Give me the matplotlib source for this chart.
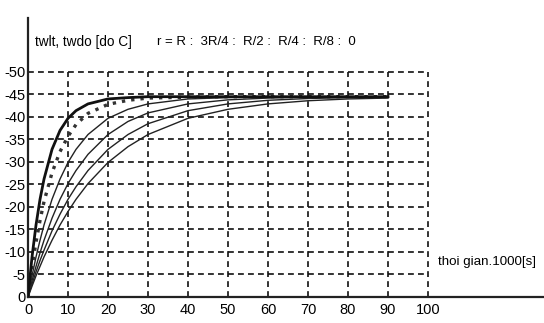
import numpy as np
import matplotlib
matplotlib.use("Agg")
import matplotlib.pyplot as plt

plt.rcParams['font.family'] = ['Liberation Sans', 'DejaVu Sans']

# thoi gian (x1000 s)
t = [0, 1, 2, 3, 4, 6, 8, 10, 12, 15, 20, 25, 30, 40, 50, 60, 70, 80, 90]

# nhiet do tai cac ban kinh r = R, 3R/4, R/2, R/4, R/8, 0
T_R   = [0, 8.9, 16.0, 21.7, 26.2, 32.8, 37.0, 39.7, 41.4, 42.9, 44.0, 44.3, 44.5, 44.5, 44.5, 44.5, 44.5, 44.5, 44.5]
T_3R4 = [0, 6.6, 12.2, 17.0, 21.2, 27.6, 32.3, 35.7, 38.3, 40.8, 42.8, 43.7, 44.2, 44.4, 44.5, 44.5, 44.5, 44.5, 44.5]
T_R2  = [0, 4.7, 8.9, 12.6, 16.0, 21.7, 26.2, 29.9, 32.8, 36.1, 39.7, 41.7, 42.9, 44.0, 44.3, 44.5, 44.5, 44.5, 44.5]
T_R4  = [0, 3.6, 6.8, 9.8, 12.6, 17.5, 21.7, 25.2, 28.1, 31.7, 36.1, 39.0, 40.9, 42.9, 43.8, 44.2, 44.4, 44.5, 44.5]
T_R8  = [0, 2.9, 5.6, 8.1, 10.4, 14.7, 18.4, 21.7, 24.5, 28.1, 32.8, 36.1, 38.5, 41.4, 42.9, 43.7, 44.1, 44.3, 44.4]
T_0   = [0, 2.4, 4.7, 6.8, 8.9, 12.6, 16.0, 19.0, 21.7, 25.2, 29.9, 33.4, 36.1, 39.7, 41.7, 42.9, 43.6, 44.0, 44.2]

xticks = [0, 10, 20, 30, 40, 50, 60, 70, 80, 90, 100]
yticks = [0, 5, 10, 15, 20, 25, 30, 35, 40, 45, 50]
ylabels = ['0', '-5', '-10', '-15', '-20', '-25', '-30', '-35', '-40', '-45', '-50']

fig = plt.figure(figsize=(5.44, 3.23), dpi=100)
ax = fig.add_axes([0.0515, 0.0805, 0.9485, 0.864])
ax.set_xlim(0, 129)
ax.set_ylim(0, 62)

# luoi net dut
dash = (0, (3.5, 2.5))
ax.hlines(yticks[1:], 0, 100, colors='#111111', linestyles=dash, linewidth=1.2, zorder=1)
ax.vlines(xticks[1:], 0, 50, colors='#111111', linestyles=dash, linewidth=1.2, zorder=1)

ax.plot(t, T_0, color='#222222', lw=1.0, zorder=3)
ax.plot(t, T_R8, color='#222222', lw=1.0, zorder=3)
ax.plot(t, T_R4, color='#222222', lw=1.0, zorder=3)
ax.plot(t, T_R2, color='#222222', lw=1.0, zorder=3)
ax.plot(t, T_3R4, color='#333333', lw=2.4, ls=(0, (1, 1.8)), zorder=3)
ax.plot(t, T_R, color='#111111', lw=2.0, zorder=4)

for s in ['top', 'right']:
    ax.spines[s].set_visible(False)
for s in ['left', 'bottom']:
    ax.spines[s].set_linewidth(1.6)
    ax.spines[s].set_color('#222222')

ax.set_xticks(xticks)
ax.set_xticklabels([str(v) for v in xticks])
ax.set_yticks(yticks)
ax.set_yticklabels(ylabels)
ax.tick_params(length=0, labelsize=10.5, pad=2)
ax.tick_params(axis='x', pad=4)

fig.text(35 / 544, 1 - 42 / 323, 'twlt, twdo [do C]', fontsize=9.8, va='center', ha='left')
fig.text(157 / 544, 1 - 42 / 323, 'r = R :  3R/4 :  R/2 :  R/4 :  R/8 :  0', fontsize=9.5, va='center', ha='left')
fig.text(438 / 544, 1 - 262 / 323, 'thoi gian.1000[s]', fontsize=9.6, va='center', ha='left')

fig.savefig('out.png', dpi=100)
